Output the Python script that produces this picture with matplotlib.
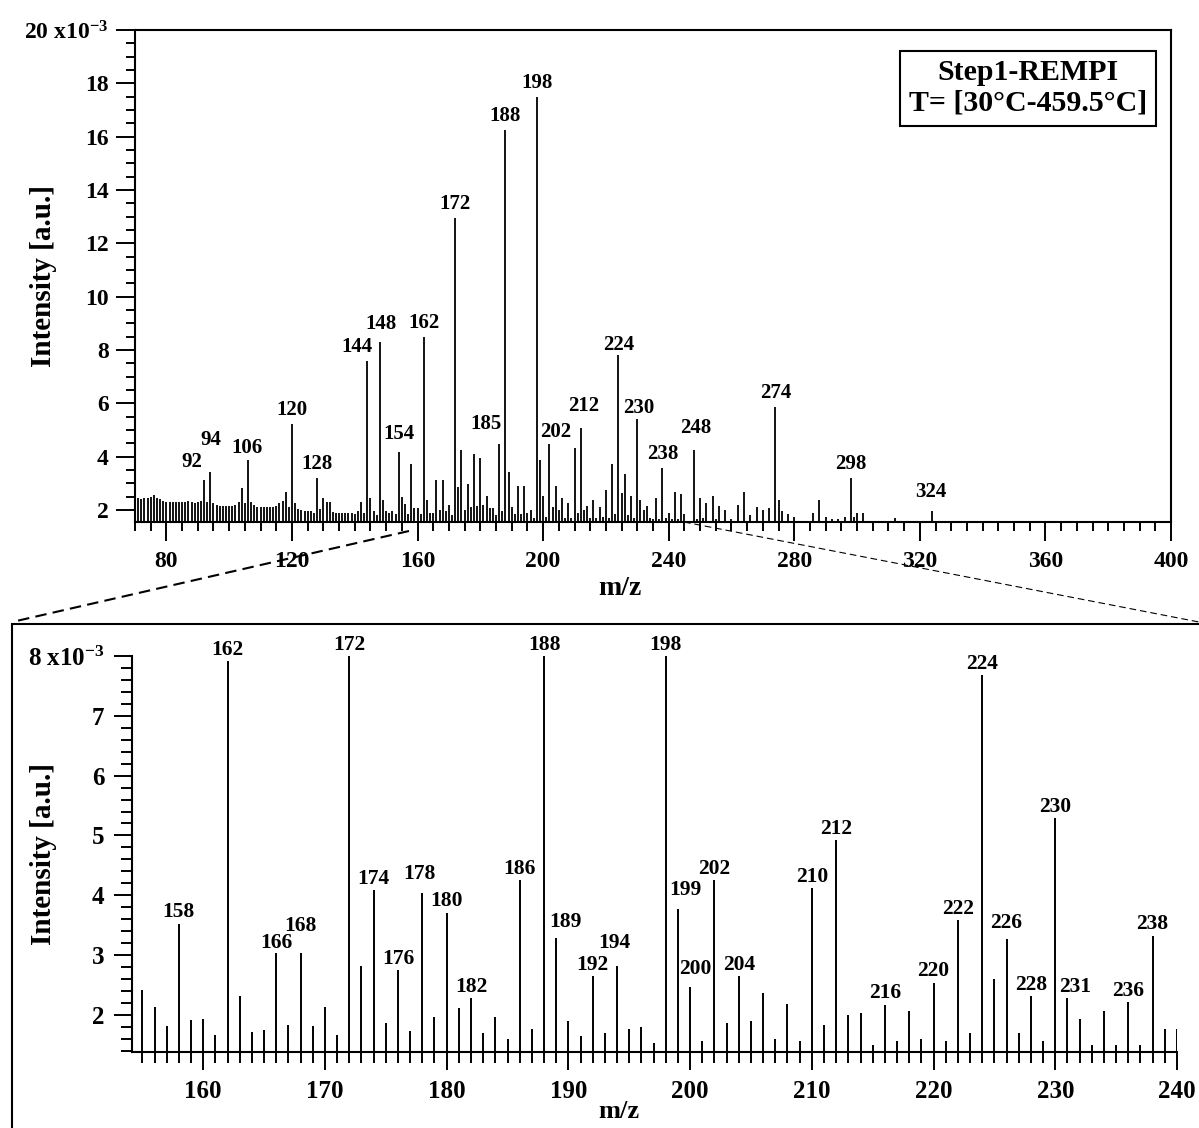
import matplotlib
matplotlib.use('Agg')
import matplotlib.pyplot as plt
from matplotlib.ticker import MultipleLocator, FuncFormatter
from matplotlib.lines import Line2D
from matplotlib.patches import Rectangle

# 字体：Times 风格粗体
plt.rcParams['font.family'] = 'Liberation Serif'
plt.rcParams['font.weight'] = 'bold'
plt.rcParams['axes.labelweight'] = 'bold'
plt.rcParams['mathtext.fontset'] = 'custom'
plt.rcParams['mathtext.rm'] = 'Liberation Serif:bold'
plt.rcParams['mathtext.bf'] = 'Liberation Serif:bold'
plt.rcParams['mathtext.it'] = 'Liberation Serif:bold:italic'
plt.rcParams['axes.linewidth'] = 1.5

# ---- 上图数据 (强度单位 1e-3) ----
top_mz = [70, 71, 72, 73, 74, 75, 76, 77, 78, 79, 80, 81, 82, 83, 84, 85, 86, 87, 88, 89,
          90, 91, 92, 93, 94, 95, 96, 97, 98, 99, 100, 101, 102, 103, 104, 105, 106, 107, 108, 109,
          110, 111, 112, 113, 114, 115, 116, 117, 118, 119, 120, 121, 122, 123, 124, 125, 126, 127, 128, 129,
          130, 131, 132, 133, 134, 135, 136, 137, 138, 139, 140, 141, 142, 143, 144, 145, 146, 147, 148, 149,
          150, 151, 152, 153, 154, 155, 156, 157, 158, 159, 160, 161, 162, 163, 164, 165, 166, 167, 168, 169,
          170, 171, 172, 173, 174, 175, 176, 177, 178, 179, 180, 181, 182, 183, 184, 185, 186, 187, 188, 189,
          190, 191, 192, 193, 194, 195, 196, 197, 198, 199, 200, 201, 202, 203, 204, 205, 206, 207, 208, 209,
          210, 211, 212, 213, 214, 215, 216, 217, 218, 219, 220, 221, 222, 223, 224, 225, 226, 227, 228, 229,
          230, 231, 232, 233, 234, 235, 236, 237, 238, 239, 240, 241, 242, 243, 244, 245, 246, 248, 249, 250,
          251, 252, 253, 254, 255, 256, 257, 258, 260, 262, 264, 266, 268, 270, 272, 274, 275, 276, 278, 280,
          286, 288, 290, 292, 294, 296, 298, 299, 300, 302, 312, 324]
top_int = [2.45, 2.45, 2.4, 2.45, 2.45, 2.5, 2.55, 2.45, 2.4, 2.35, 2.3, 2.3, 2.3, 2.3, 2.3, 2.3, 2.3, 2.35, 2.3, 2.25,
           2.3, 2.35, 3.12, 2.3, 3.41, 2.25, 2.2, 2.15, 2.15, 2.15, 2.15, 2.15, 2.2, 2.3, 2.84, 2.25, 3.87, 2.3, 2.2, 2.1,
           2.1, 2.1, 2.1, 2.1, 2.1, 2.15, 2.25, 2.35, 2.69, 2.1, 5.21, 2.25, 2.05, 2.0, 1.95, 1.95, 1.95, 1.9, 3.21, 2.05,
           2.46, 2.31, 2.3, 1.93, 1.9, 1.9, 1.9, 1.88, 1.88, 1.9, 1.85, 1.95, 2.31, 1.9, 7.6, 2.46, 1.95, 1.8, 8.3, 2.36,
           1.95, 1.9, 1.95, 1.85, 4.19, 2.49, 2.24, 1.85, 3.72, 2.07, 2.07, 1.85, 8.5, 2.36, 1.9, 1.9, 3.12, 2.0, 3.12, 1.95,
           2.2, 1.8, 12.95, 2.87, 4.25, 2.0, 2.97, 2.1, 4.09, 2.15, 3.94, 2.2, 2.52, 2.07, 2.07, 1.8, 4.46, 1.95, 16.25, 3.41,
           2.1, 1.85, 2.9, 1.85, 2.9, 1.9, 2.0, 1.7, 17.5, 3.87, 2.52, 1.75, 4.46, 2.1, 2.9, 2.0, 2.46, 1.7, 2.27, 1.7,
           4.31, 1.9, 5.06, 2.0, 2.15, 1.7, 2.37, 1.7, 2.1, 1.75, 2.75, 1.7, 3.71, 1.85, 7.8, 2.65, 3.34, 1.8, 2.52, 1.7,
           5.4, 2.37, 2.0, 2.15, 1.7, 1.65, 2.46, 1.65, 3.59, 1.7, 1.9, 1.65, 2.69, 1.65, 2.6, 1.85, 1.6, 4.25, 1.65, 2.46,
           1.7, 2.27, 1.6, 2.52, 1.65, 2.15, 1.6, 2.0, 1.65, 2.2, 2.69, 1.8, 2.1, 2.0, 2.09, 5.87, 2.37, 1.95, 1.85, 1.74,
           1.9, 2.37, 1.74, 1.65, 1.65, 1.72, 3.19, 1.75, 1.9, 1.9, 1.7, 1.97]
top_labels = [92, 94, 106, 120, 128, 144, 148, 154, 162, 172, 185, 188, 198, 202, 212, 224, 230, 238, 248, 274, 298, 324]

# ---- 下图数据 (放大 154-240) ----
bot_mz = list(range(155, 241))
bot_int = [2.41, 2.14, 1.81, 3.52, 1.91, 1.94, 1.67, 7.91, 2.31, 1.71, 1.74, 3.04, 1.83, 3.04, 1.81, 2.14, 1.67, 13.0, 2.81, 4.08,
           1.86, 2.75, 1.73, 4.03, 1.97, 3.71, 2.11, 2.28, 1.69, 1.97, 1.59, 4.25, 1.77, 16.2, 3.29, 1.9, 1.64, 2.65, 1.69, 2.81,
           1.77, 1.79, 1.53, 17.5, 3.77, 2.47, 1.57, 4.25, 1.86, 2.65, 1.9, 2.37, 1.6, 2.19, 1.57, 4.12, 1.83, 4.92, 2.0, 2.04,
           1.5, 2.17, 1.57, 2.07, 1.6, 2.54, 1.57, 3.58, 1.69, 7.68, 2.6, 3.27, 1.69, 2.31, 1.57, 5.29, 2.29, 1.93, 1.5, 2.07,
           1.5, 2.21, 1.5, 3.32, 1.76, 1.76]
bot_labels = [158, 162, 166, 168, 172, 174, 176, 178, 180, 182, 186, 188, 189, 192, 194, 198, 199, 200, 202, 204,
              210, 212, 216, 220, 222, 224, 226, 228, 230, 231, 236, 238]

# 标注偏移 (像素: dx, 标签中心距峰顶高度)
top_anchor = {185: 186}
top_shift = {92: (-12, 18), 94: (0, 32), 106: (-1, 12), 144: (-10, 14), 148: (1, 18), 154: (0, 18),
             185: (-13, 20), 202: (6, 12), 212: (3, 22), 224: (0, 10), 230: (1, 11), 248: (2, 22), 324: (-2, 19)}
bot_shift = {168: (0, 27), 178: (-3, 19), 189: (9, 16), 194: (-3, 23), 199: (7, 19), 200: (5, 18),
             226: (0, 16), 231: (8, 11), 166: (0, 10)}

W, H = 1199, 1128
fig = plt.figure(figsize=(W / 100, H / 100), dpi=100)


def px_box(l, t, r, b):
    return [l / W, 1 - b / H, (r - l) / W, (b - t) / H]


P = 0.72  # 像素 -> 磅

# ================= 上图 =================
ax1 = fig.add_axes(px_box(135, 30, 1171, 522))
ax1.vlines(top_mz, 0, top_int, colors='black', lw=1.3)
ax1.set_xlim(70, 400)
ax1.set_ylim(1.55, 20)
ax1.xaxis.set_major_locator(MultipleLocator(40))
ax1.xaxis.set_minor_locator(MultipleLocator(5))
ax1.yaxis.set_major_locator(MultipleLocator(2))
ax1.yaxis.set_minor_locator(MultipleLocator(0.5))
ax1.yaxis.set_major_formatter(FuncFormatter(
    lambda v, p: '20 x10$^{-3}$' if abs(v - 20) < 1e-6 else f'{v:.0f}'))
ax1.tick_params(which='major', direction='out', length=14, width=1.4, labelsize=17)
ax1.tick_params(which='minor', direction='out', length=6.5, width=1.4)
ax1.tick_params(axis='x', which='major', pad=7)
ax1.tick_params(axis='y', which='major', pad=5)
ax1.tick_params(top=False, right=False, which='both')
ax1.set_xlabel('m/z', fontsize=20)
ax1.xaxis.set_label_coords(0.4677, -0.11)
ax1.set_ylabel('Intensity [a.u.]', fontsize=21)
ax1.yaxis.set_label_coords(-0.075, 0.5)

top_val = dict(zip(top_mz, top_int))
for m in top_labels:
    a = top_anchor.get(m, m)
    dx, gap = top_shift.get(m, (0, 14))
    ax1.annotate(str(m), xy=(a, top_val[a]), xytext=(dx * P, gap * P), textcoords='offset points',
                 ha='center', va='center', fontsize=15)

ax1.text(0.862, 0.882, 'Step1-REMPI\nT= [30°C-459.5°C]', transform=ax1.transAxes,
         ha='center', va='center', fontsize=21.5, linespacing=1.15,
         bbox=dict(boxstyle='square,pad=0.3', fc='white', ec='black', lw=1.5))

# ================= 下图 =================
ax2 = fig.add_axes(px_box(132, 656, 1177, 1052))
ax2.vlines(bot_mz, 0, bot_int, colors='black', lw=1.4)
ax2.set_xlim(154.15, 240)
ax2.set_ylim(1.38, 8)
ax2.spines['top'].set_visible(False)
ax2.spines['right'].set_visible(False)
ax2.xaxis.set_major_locator(MultipleLocator(10))
ax2.xaxis.set_minor_locator(MultipleLocator(1))
ax2.yaxis.set_major_locator(MultipleLocator(1))
ax2.yaxis.set_minor_locator(MultipleLocator(0.2))
ax2.yaxis.set_major_formatter(FuncFormatter(
    lambda v, p: '8 x10$^{-3}$' if abs(v - 8) < 1e-6 else f'{v:.0f}'))
ax2.tick_params(which='major', direction='out', length=13, width=1.4, labelsize=18, pad=7)
ax2.tick_params(which='minor', direction='out', length=8, width=1.4)
ax2.tick_params(top=False, right=False, which='both')
ax2.set_xlabel('m/z', fontsize=19)
ax2.xaxis.set_label_coords(0.466, -0.12)
ax2.set_ylabel('Intensity [a.u.]', fontsize=21)
ax2.yaxis.set_label_coords(-0.072, 0.5)

ytop = ax2.get_ylim()[1]
bot_val = dict(zip(bot_mz, bot_int))
for m in bot_labels:
    dx, gap = bot_shift.get(m, (0, 11.5))
    ax2.annotate(str(m), xy=(m, min(bot_val[m], ytop)), xytext=(dx * P, gap * P), textcoords='offset points',
                 ha='center', va='center', fontsize=15.5, annotation_clip=False)

# 放大框与虚线
fig.add_artist(Rectangle((12 / W, -0.05), 1.2, 1 - 624 / H + 0.05, transform=fig.transFigure,
                         fill=False, ec='black', lw=1.5))
fig.add_artist(Line2D([409 / W, 12 / W], [1 - 531 / H, 1 - 622 / H], transform=fig.transFigure,
                      color='black', lw=1.5, ls=(0, (5.5, 3))))
fig.add_artist(Line2D([684 / W, 1199 / W], [1 - 522 / H, 1 - 622 / H], transform=fig.transFigure,
                      color='black', lw=0.8, ls=(0, (6, 3.5))))

fig.savefig('out.png', dpi=100)
